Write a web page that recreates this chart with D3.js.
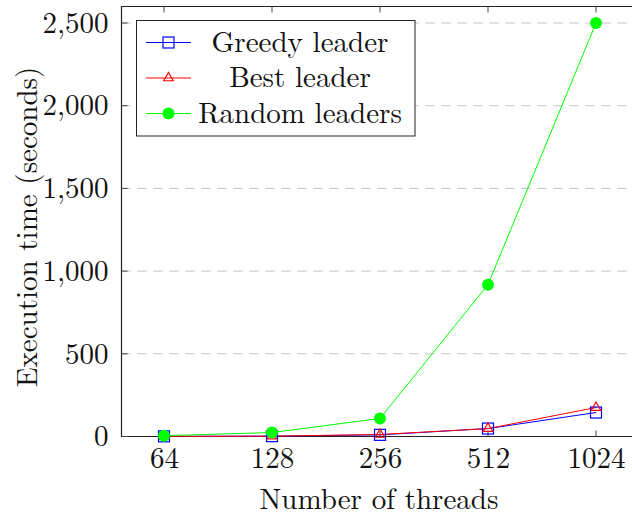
<!DOCTYPE html>
<html>
<head>
<meta charset="utf-8">
<script src="https://cdn.jsdelivr.net/npm/d3@7"></script>
</head>
<body style="margin:0; background:#fff">
<svg id="chart" width="632" height="513"></svg>
<script>
// data
let threads = [64, 128, 256, 512, 1024]
let greedy = [1, 2, 10, 48, 145]
let best = [1, 2, 12, 48, 175]
let random = [5, 24, 109, 918, 2500]
let yTicks = [0, 500, 1000, 1500, 2000, 2500]
let seriesNames = ["Greedy leader", "Best leader", "Random leaders"]

let width = 632
let height = 513
let font = "Latin Modern Roman, Liberation Serif, serif"
let fs = 29
let plotLeft = 121.5, plotTop = 6.5, plotBottom = 436.5

let svg = d3.select("#chart")

let x = d3.scaleLog().base(2)
  .domain([64, 1024])
  .range([164, 596])

let y = d3.scaleLinear()
  .domain([0, 2500])
  .range([plotBottom, 23])

// grid
svg.append("g")
  .selectAll("line")
  .data(yTicks.filter(d => d > 0))
  .join("line")
  .attr("x1", plotLeft).attr("x2", width)
  .attr("y1", d => y(d)).attr("y2", d => y(d))
  .attr("stroke", "#c4c4c4")
  .attr("stroke-width", 1)
  .attr("stroke-dasharray", "9,7")

// frame (right side runs off the page)
svg.append("path")
  .attr("d", `M${width + 2},${plotTop}H${plotLeft}V${plotBottom}H${width + 2}`)
  .attr("fill", "none")
  .attr("stroke", "#222")
  .attr("stroke-width", 1.2)

// x axis
let xAxis = g => g
  .attr("transform", `translate(0,${plotBottom})`)
  .call(d3.axisBottom(x).tickValues(threads).tickFormat(d3.format("d")).tickSize(0).tickPadding(11))
  .call(g => g.select(".domain").remove())
  .call(g => g.attr("font-family", font).attr("font-size", fs))
  .call(g => g.selectAll("text").attr("fill", "#111").attr("font-family", font))
svg.append("g").call(xAxis)

// x tick marks bottom and top
svg.append("g").selectAll("line").data(threads).join("line")
  .attr("x1", d => x(d)).attr("x2", d => x(d))
  .attr("y1", plotBottom).attr("y2", plotBottom - 6)
  .attr("stroke", "#444")
svg.append("g").selectAll("line").data(threads).join("line")
  .attr("x1", d => x(d)).attr("x2", d => x(d))
  .attr("y1", plotTop).attr("y2", plotTop + 6)
  .attr("stroke", "#444")

// y axis
let yAxis = g => g
  .attr("transform", `translate(${plotLeft},0)`)
  .call(d3.axisLeft(y).tickValues(yTicks).tickFormat(d3.format(",")).tickSize(0).tickPadding(13))
  .call(g => g.select(".domain").remove())
  .call(g => g.attr("font-family", font).attr("font-size", fs))
  .call(g => g.selectAll("text").attr("fill", "#111").attr("font-family", font))
svg.append("g").call(yAxis)

svg.append("g").selectAll("line").data(yTicks).join("line")
  .attr("x1", plotLeft).attr("x2", plotLeft + 6)
  .attr("y1", d => y(d)).attr("y2", d => y(d))
  .attr("stroke", "#444")

// axis titles
svg.append("text")
  .attr("x", 379).attr("y", 509)
  .attr("text-anchor", "middle")
  .attr("font-family", font)
  .attr("font-size", fs)
  .attr("fill", "#111")
  .text("Number of threads")

svg.append("text")
  .attr("transform", "translate(37,227) rotate(-90)")
  .attr("text-anchor", "middle")
  .attr("font-family", font)
  .attr("font-size", fs)
  .attr("fill", "#111")
  .text("Execution time (seconds)")

let line = d3.line()
  .x((d, i) => x(threads[i]))
  .y(d => y(d))

let colors = ["#0000ff", "#ff0000", "#00ff00"]
let allData = [greedy, best, random]

function drawMarker(g, kind, cx, cy, color) {
  if (kind === 0) {
    g.append("rect")
      .attr("x", cx - 5.5).attr("y", cy - 5.5)
      .attr("width", 11).attr("height", 11)
      .attr("fill", "none").attr("stroke", color).attr("stroke-width", 1.2)
  } else if (kind === 1) {
    g.append("path")
      .attr("d", `M${cx},${cy - 5.5}L${cx + 4.8},${cy + 2.75}L${cx - 4.8},${cy + 2.75}Z`)
      .attr("fill", "none").attr("stroke", color).attr("stroke-width", 1.2)
  } else {
    g.append("circle")
      .attr("cx", cx).attr("cy", cy).attr("r", 6)
      .attr("fill", color)
  }
}

allData.forEach((vals, k) => {
  svg.append("path")
    .datum(vals)
    .attr("fill", "none")
    .attr("stroke", colors[k])
    .attr("stroke-width", 1)
    .attr("d", line)
})
allData.forEach((vals, k) => {
  let g = svg.append("g")
  vals.forEach((v, i) => drawMarker(g, k, x(threads[i]), y(v), colors[k]))
})

// legend
let lg = svg.append("g")
lg.append("rect")
  .attr("x", 136.5).attr("y", 20.5)
  .attr("width", 278.5).attr("height", 115.5)
  .attr("fill", "#fff")
  .attr("stroke", "#222")
  .attr("stroke-width", 1)
seriesNames.forEach((name, k) => {
  let cy = 42.5 + k * 35.5
  lg.append("line")
    .attr("x1", 146).attr("x2", 191)
    .attr("y1", cy).attr("y2", cy)
    .attr("stroke", colors[k])
  drawMarker(lg, k, 168.5, cy, colors[k])
  lg.append("text")
    .attr("x", 300).attr("y", cy + 9)
    .attr("text-anchor", "middle")
    .attr("font-family", font)
    .attr("font-size", fs)
    .attr("fill", "#111")
    .text(name)
})
</script>
</body>
</html>
